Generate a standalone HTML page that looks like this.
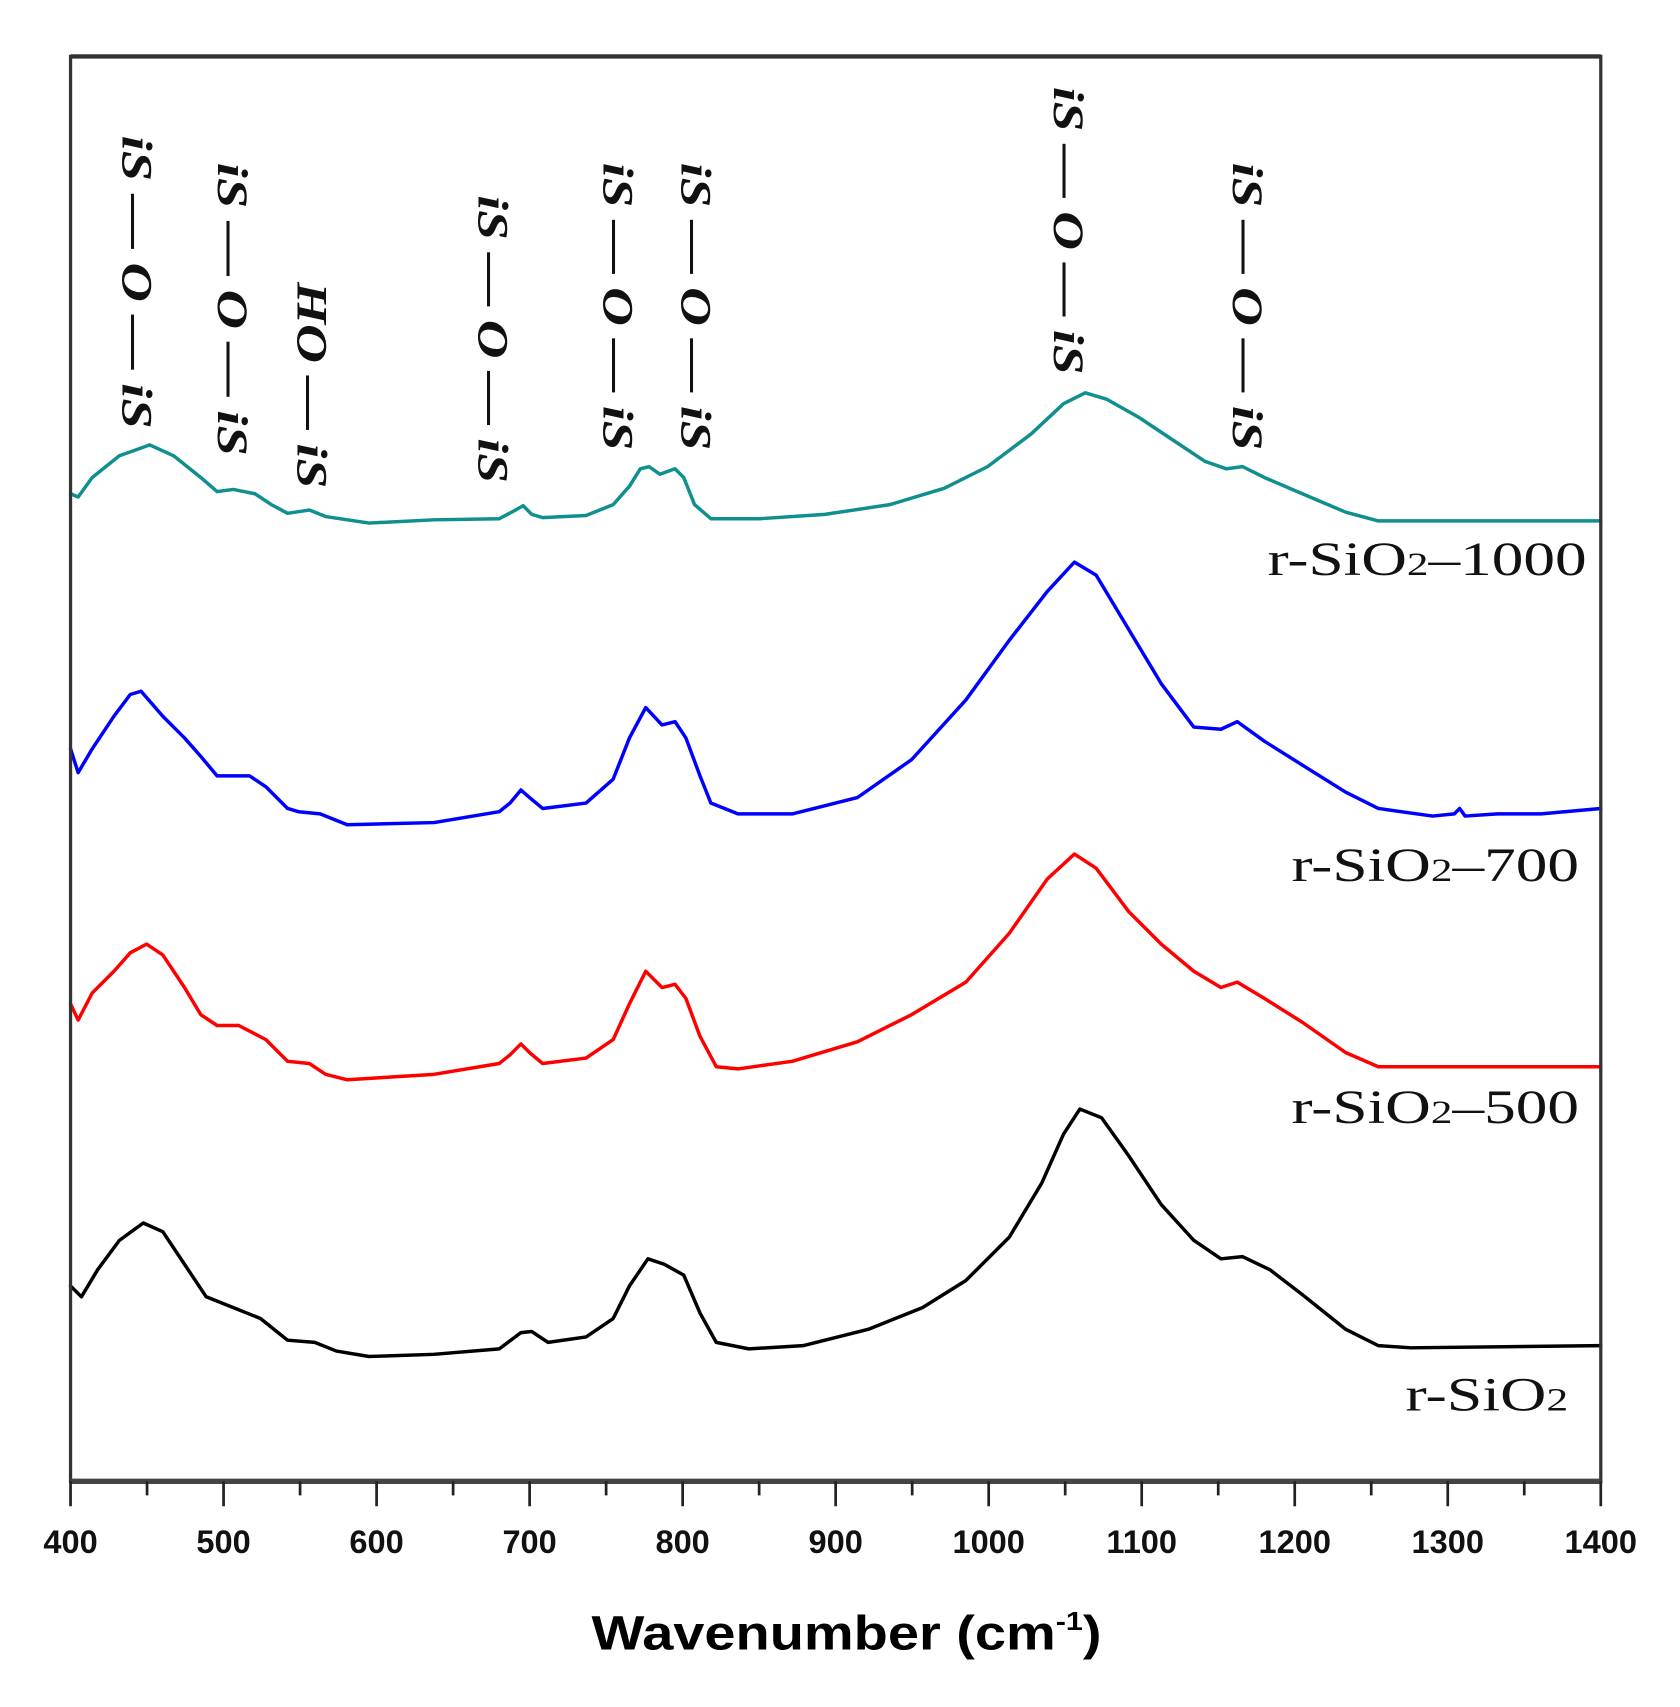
<!DOCTYPE html>
<html><head><meta charset="utf-8"><style>
html,body{margin:0;padding:0;background:#fff;}
svg{display:block;}
</style></head><body>
<svg width="1680" height="1707" viewBox="0 0 1548 1573" preserveAspectRatio="none" xmlns="http://www.w3.org/2000/svg">
<rect width="1548" height="1573" fill="#fff"/>
<g fill="none" stroke-linejoin="round" stroke-linecap="round" stroke-width="3.2">
<polyline stroke="#0f8f8f" points="65,455 72,458 85,440 110,420 138,410 160,420 185,440 200,453 215,451 235,455 250,465 265,473 285,470 300,476 340,482 400,479 460,478 475,470 482,466 490,474 500,477 540,475 565,465 580,448 590,432 598,430 608,437 622,432 630,440 640,465 655,478 700,478 760,474 820,465 870,450 910,430 950,400 980,372 1000,362 1020,368 1050,385 1080,405 1110,425 1130,432 1145,430 1165,440 1200,455 1240,472 1270,480 1475,480"/>
<polyline stroke="#0000ff" points="65,690 72,712 85,690 105,660 120,640 130,637 150,660 170,680 185,697 200,715 215,715 230,715 245,725 265,745 275,748 295,750 320,760 400,758 460,748 470,740 480,728 488,735 500,745 540,740 565,718 580,680 595,652 610,668 622,665 632,680 645,715 655,740 680,750 730,750 790,735 840,700 890,645 930,590 965,545 990,518 1010,530 1040,580 1070,630 1100,670 1125,672 1140,665 1165,683 1200,705 1240,730 1270,745 1320,752 1340,750 1345,745 1350,752 1380,750 1420,750 1475,745"/>
<polyline stroke="#ff0000" points="65,925 72,940 85,915 105,895 120,878 135,870 150,880 170,910 185,935 200,945 220,945 245,958 265,978 285,980 300,990 320,995 400,990 460,980 470,972 480,962 488,970 500,980 540,975 565,958 580,925 595,895 610,910 622,907 632,920 645,955 660,983 680,985 730,978 790,960 840,935 890,905 930,860 965,810 990,787 1010,800 1040,840 1070,870 1100,895 1125,910 1140,905 1165,920 1200,942 1240,970 1270,983 1475,983"/>
<polyline stroke="#000000" points="65,1185 75,1195 90,1170 110,1143 132,1127 150,1135 170,1165 190,1195 215,1205 240,1215 265,1235 290,1237 310,1245 340,1250 400,1248 460,1243 480,1228 490,1227 505,1237 540,1232 565,1215 580,1185 597,1160 612,1165 630,1175 645,1210 660,1237 690,1243 740,1240 800,1225 850,1205 890,1180 930,1140 960,1090 980,1045 995,1022 1015,1030 1040,1065 1070,1110 1100,1143 1125,1160 1145,1158 1170,1170 1200,1193 1240,1225 1270,1240 1300,1242 1475,1240"/>
</g>
<rect x="65" y="52" width="1410" height="1313" fill="none" stroke="#333" stroke-width="3"/>
<line x1="65" y1="52" x2="1475" y2="52" stroke="#333" stroke-width="4"/>
<line x1="65" y1="1365" x2="1475" y2="1365" stroke="#444" stroke-width="5"/>
<g stroke="#222" stroke-width="2.5">
<line x1="65" y1="1365" x2="65" y2="1388"/><line x1="135.5" y1="1365" x2="135.5" y2="1378"/>
<line x1="206" y1="1365" x2="206" y2="1388"/><line x1="276.5" y1="1365" x2="276.5" y2="1378"/>
<line x1="347" y1="1365" x2="347" y2="1388"/><line x1="417.5" y1="1365" x2="417.5" y2="1378"/>
<line x1="488" y1="1365" x2="488" y2="1388"/><line x1="558.5" y1="1365" x2="558.5" y2="1378"/>
<line x1="629" y1="1365" x2="629" y2="1388"/><line x1="699.5" y1="1365" x2="699.5" y2="1378"/>
<line x1="770" y1="1365" x2="770" y2="1388"/><line x1="840.5" y1="1365" x2="840.5" y2="1378"/>
<line x1="911" y1="1365" x2="911" y2="1388"/><line x1="981.5" y1="1365" x2="981.5" y2="1378"/>
<line x1="1052" y1="1365" x2="1052" y2="1388"/><line x1="1122.5" y1="1365" x2="1122.5" y2="1378"/>
<line x1="1193" y1="1365" x2="1193" y2="1388"/><line x1="1263.5" y1="1365" x2="1263.5" y2="1378"/>
<line x1="1334" y1="1365" x2="1334" y2="1388"/><line x1="1404.5" y1="1365" x2="1404.5" y2="1378"/>
<line x1="1475" y1="1365" x2="1475" y2="1388"/>
</g>
<g font-family="Liberation Sans, sans-serif" font-weight="bold" font-size="30" text-anchor="middle" fill="#111">
<text x="65" y="1431">400</text><text x="206" y="1431">500</text><text x="347" y="1431">600</text>
<text x="488" y="1431">700</text><text x="629" y="1431">800</text><text x="770" y="1431">900</text>
<text x="911" y="1431">1000</text><text x="1052" y="1431">1100</text><text x="1193" y="1431">1200</text>
<text x="1334" y="1431">1300</text><text x="1475" y="1431">1400</text>
</g>
<text x="545" y="1520" font-family="Liberation Sans, sans-serif" font-weight="bold" font-size="44" fill="#000" textLength="470" lengthAdjust="spacingAndGlyphs">Wavenumber (cm<tspan dy="-18" font-size="24">-1</tspan><tspan dy="18">)</tspan></text>
<g font-family="Liberation Serif, serif" font-size="44" fill="#111">
<text x="1168" y="530" textLength="294" lengthAdjust="spacingAndGlyphs">r-SiO<tspan font-size="30">2</tspan>–1000</text>
<text x="1190" y="812" textLength="265" lengthAdjust="spacingAndGlyphs">r-SiO<tspan font-size="30">2</tspan>–700</text>
<text x="1190" y="1035" textLength="265" lengthAdjust="spacingAndGlyphs">r-SiO<tspan font-size="30">2</tspan>–500</text>
<text x="1295" y="1300" textLength="150" lengthAdjust="spacingAndGlyphs">r-SiO<tspan font-size="30">2</tspan></text>
</g>
<g font-family="Liberation Serif, serif" font-weight="bold" font-style="italic" font-size="40" fill="#111">
<text transform="translate(113,125) rotate(90)" textLength="270" lengthAdjust="spacingAndGlyphs">iS — O — iS</text>
<text transform="translate(201,150) rotate(90)" textLength="270" lengthAdjust="spacingAndGlyphs">iS — O — iS</text>
<text transform="translate(274,260) rotate(90)" textLength="190" lengthAdjust="spacingAndGlyphs">HO — iS</text>
<text transform="translate(441,180) rotate(90)" textLength="265" lengthAdjust="spacingAndGlyphs">iS — O — iS</text>
<text transform="translate(556,150) rotate(90)" textLength="265" lengthAdjust="spacingAndGlyphs">iS — O — iS</text>
<text transform="translate(628,150) rotate(90)" textLength="265" lengthAdjust="spacingAndGlyphs">iS — O — iS</text>
<text transform="translate(971,80) rotate(90)" textLength="265" lengthAdjust="spacingAndGlyphs">iS — O — iS</text>
<text transform="translate(1136,150) rotate(90)" textLength="265" lengthAdjust="spacingAndGlyphs">iS — O — iS</text>
</g>
</svg>
</body></html>
